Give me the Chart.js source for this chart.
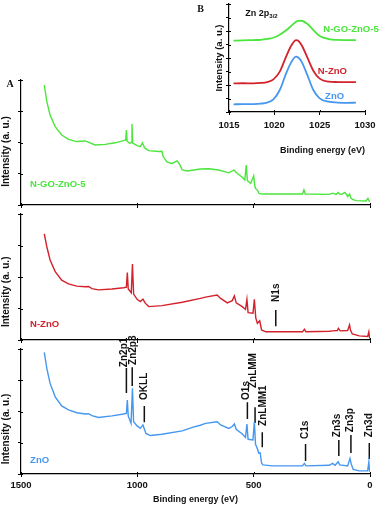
<!DOCTYPE html>
<html>
<head>
<meta charset="utf-8">
<script src="https://cdn.jsdelivr.net/npm/chart.js@4.4.1/dist/chart.umd.min.js"></script>
<style>
  html, body { margin: 0; padding: 0; background: #fff; }
  #wrap { position: relative; width: 381px; height: 507px; overflow: hidden; }
  #wrap canvas { position: absolute; left: 0; }
</style>
</head>
<body>
<div id="wrap">
  <canvas id="panel-ngo" width="381" height="138" style="top:72px"></canvas>
  <canvas id="panel-nzno" width="381" height="139" style="top:206px"></canvas>
  <canvas id="panel-zno" width="381" height="173" style="top:334px"></canvas>
  <canvas id="inset" width="191" height="160" style="top:0;left:190px"></canvas>
</div>
<script>
// survey spectra (binding energy in eV, intensity in arbitrary panel units 0..4)
const energyNGO = [1400,1389,1375,1353,1325,1296,1260,1224,1181,1138,1095,1059,1050,1047,1044,1033,1026,1023,1020,1001,987,978,970,966,951,908,894,889,872,850,829,818,807,786,729,693,650,607,585,570,549,538,532,527,513,500,495,492,484,477,463,376,290,284,278,175,161,146,137,130,121,108,100,96,88,82,75,60,17,9,4,0];
const countsNGO = [3.84,3.31,2.88,2.51,2.24,2.10,2.03,2.05,1.92,1.94,1.99,2.06,2.08,2.40,2.05,1.97,2.00,2.59,1.98,1.90,1.87,1.99,1.85,1.81,1.74,1.71,1.72,1.55,1.37,1.33,1.41,1.30,1.12,1.09,1.15,1.16,1.12,1.03,1.12,1.01,0.89,0.80,1.28,0.78,0.69,0.93,0.60,0.53,0.48,0.37,0.35,0.35,0.35,0.48,0.35,0.34,0.38,0.34,0.40,0.35,0.34,0.40,0.33,0.27,0.35,0.22,0.18,0.14,0.13,0.21,0.13,0.11];

const energyNZnO = [1400,1389,1375,1353,1325,1296,1260,1224,1210,1195,1167,1109,1059,1047,1043,1039,1026,1021,1016,1001,987,976,966,951,894,807,729,707,657,642,613,592,583,575,549,535,529,524,503,497,491,484,474,466,448,290,282,275,175,161,140,136,128,96,88,84,76,46,10,5,2,0];
const countsNZnO = [3.37,2.96,2.54,2.17,1.90,1.78,1.71,1.69,1.70,1.63,1.59,1.62,1.66,1.68,2.14,1.62,1.50,2.41,1.46,1.29,1.22,1.30,1.17,1.06,1.09,1.20,1.32,1.36,1.43,1.32,1.18,1.25,1.40,1.18,1.06,0.97,1.29,0.87,0.85,1.29,0.70,0.53,0.61,0.32,0.26,0.26,0.34,0.26,0.28,0.29,0.30,0.37,0.29,0.30,0.48,0.32,0.19,0.13,0.11,0.26,0.08,0.05];

const energyZnO = [1400,1389,1375,1353,1325,1296,1260,1224,1210,1195,1167,1109,1059,1047,1043,1039,1027,1021,1016,1001,987,976,968,963,944,894,807,760,729,707,657,642,607,592,583,575,549,535,529,524,503,497,492,486,478,472,466,460,420,290,282,275,175,161,150,137,130,96,86,80,72,46,10,5,2,0];
const countsZnO = [3.89,3.38,2.90,2.47,2.18,2.05,1.96,1.92,1.93,1.87,1.81,1.86,1.92,1.94,2.37,1.85,1.62,2.74,1.67,1.54,1.46,1.57,1.40,1.30,1.23,1.27,1.38,1.50,1.56,1.62,1.67,1.57,1.46,1.52,1.60,1.43,1.28,1.17,1.60,1.11,1.09,1.67,0.95,0.85,0.67,0.68,0.35,0.29,0.26,0.26,0.34,0.26,0.28,0.34,0.28,0.39,0.29,0.26,0.50,0.30,0.15,0.10,0.10,0.39,0.10,0.07];

// peak markers on the ZnO survey
const peakNames = ['Zn2p1','Zn2p3','OKLL','O1s','ZnLMM','ZnLMM1','C1s','Zn3s','Zn3p','Zn3d'];
const peakEnergy = [1047,1022,970,527,494,463,277,134,82,3];
const peakLow = [2.59,2.82,1.66,1.76,1.63,0.86,0.42,0.58,0.67,0.48];
const peakHigh = [3.39,3.42,2.18,2.30,2.14,1.34,0.96,1.09,1.25,0.99];
const peakLabelE = [1055,1016,970,534,500,458,280,139,85,5];
const peakLabelAt = [3.42,3.49,2.37,2.37,2.75,1.54,1.12,1.18,1.34,1.18];

// N1s marker on the N-ZnO survey
const nPeakNames = ['N1s'];
const nPeakEnergy = [405];
const nPeakLow = [0.44];
const nPeakHigh = [0.95];
const nPeakLabelE = [401];
const nPeakLabelAt = [1.21];

// Zn 2p3/2 high resolution (inset B)
const zoomEnergy = [1015.5,1016.5,1017.7,1018.5,1019.2,1019.9,1020.6,1021.3,1021.9,1022.4,1022.6,1023.0,1023.6,1024.3,1025.0,1026.0,1027.0,1028.0,1029.0];
const zoomNGO  = [5.28,5.31,5.33,5.35,5.41,5.50,5.72,6.05,6.40,6.68,6.75,6.76,6.55,6.07,5.63,5.40,5.34,5.32,5.33];
const zoomNZnO = [2.12,2.13,2.12,2.15,2.22,2.42,2.99,4.10,4.96,5.33,5.30,4.96,4.10,3.06,2.47,2.25,2.22,2.21,2.22];
const zoomZnO  = [0.57,0.58,0.59,0.62,0.69,0.94,1.63,2.86,3.73,4.10,4.05,3.73,2.81,1.63,1.01,0.76,0.70,0.68,0.69];

const SANS = "'Liberation Sans', Arial, sans-serif";
const SERIF = "'Liberation Serif', 'Times New Roman', serif";
const GREEN = '#4be53d', RED = '#d3222b', BLUE = '#4697ef';

// short tick marks on the inner side of the axes, so the ticks cross the axis line
const innerTicks = {
  id: 'innerTicks',
  afterDraw(chart) {
    const { ctx, chartArea: a, scales: { x, y } } = chart;
    ctx.save();
    ctx.strokeStyle = '#000';
    ctx.lineWidth = 1;
    ctx.beginPath();
    x.ticks.forEach((t, i) => {
      const px = Math.round(x.getPixelForTick(i)) + 0.5;
      ctx.moveTo(px, a.bottom); ctx.lineTo(px, a.bottom - 2);
    });
    y.ticks.forEach((t, i) => {
      const py = Math.round(y.getPixelForTick(i)) + 0.5;
      ctx.moveTo(a.left, py); ctx.lineTo(a.left + 2, py);
    });
    ctx.stroke();
    ctx.restore();
  }
};

// text placed in data coordinates
function notes(items) {
  return {
    id: 'notes',
    afterDatasetsDraw(chart) {
      const { ctx, scales: { x, y } } = chart;
      items.forEach(n => {
        ctx.save();
        ctx.font = n.font;
        ctx.fillStyle = n.color || '#111';
        ctx.textAlign = n.align || 'left';
        ctx.textBaseline = 'middle';
        ctx.translate(x.getPixelForValue(n.x), y.getPixelForValue(n.y));
        if (n.rotate) ctx.rotate(-Math.PI / 2);
        ctx.fillText(n.text, 0, 0);
        if (n.sub) {
          const w = ctx.measureText(n.text).width;
          ctx.font = n.subFont;
          ctx.fillText(n.sub, w, 3);
        }
        ctx.restore();
      });
    }
  };
}

function markerPoints(energy, low, high) {
  const pts = [];
  energy.forEach((e, i) => {
    pts.push({ x: e, y: low[i] }, { x: e, y: high[i] }, { x: e, y: null });
  });
  return pts;
}

function peakNotes(names, energy, at) {
  return names.map((t, i) => ({ text: t, x: energy[i], y: at[i], rotate: true, font: 'bold 10px ' + SANS, color: '#111' }));
}

const plainNumber = v => String(v);

function surveyChart(id, cfg) {
  const datasets = [{
    data: cfg.energy.map((e, i) => ({ x: e, y: cfg.counts[i] })),
    borderColor: cfg.color,
    borderWidth: 1.4,
    pointRadius: 0,
    tension: 0
  }];
  if (cfg.peaks) {
    datasets.push({
      data: markerPoints(cfg.peaks.energy, cfg.peaks.low, cfg.peaks.high),
      borderColor: '#111',
      borderWidth: 1.5,
      pointRadius: 0,
      spanGaps: false
    });
  }
  const items = [
    { text: cfg.label, x: 1461, y: cfg.labelY, font: 'bold 9.5px ' + SANS, color: cfg.color },
    { text: 'Intensity (a. u.)', x: 1562, y: cfg.titleY, rotate: true, align: 'center', font: 'bold 10px ' + SANS, color: '#111' }
  ].concat(cfg.extra || []);
  if (cfg.peaks) items.push(...peakNotes(cfg.peaks.names, cfg.peaks.labelE, cfg.peaks.at));

  return new Chart(document.getElementById(id), {
    type: 'line',
    data: { datasets },
    options: {
      responsive: false,
      animation: false,
      layout: { padding: { top: cfg.padTop, right: 11, left: 0, bottom: 0 } },
      plugins: { legend: { display: false }, tooltip: { enabled: false } },
      scales: {
        x: {
          type: 'linear', min: 0, max: 1500, reverse: true,
          border: { color: '#000', width: 1.2 },
          grid: { drawOnChartArea: false, tickLength: 3, color: '#000', tickColor: '#000' },
          ticks: { stepSize: 500, display: cfg.showX, padding: 3, color: '#111', callback: plainNumber, font: { family: SANS, size: 9.5, weight: 'bold' } },
          title: { display: cfg.showX, text: 'Binding energy (eV)', color: '#111', padding: { top: 0, bottom: 2 }, font: { family: SANS, size: 9, weight: 'bold' } },
          afterFit: s => { s.height = cfg.xHeight; }
        },
        y: {
          min: 0, max: 4,
          border: { color: '#000', width: 1.2 },
          grid: { drawOnChartArea: false, tickLength: 3, color: '#000', tickColor: '#000' },
          ticks: { stepSize: 1, display: false },
          afterFit: s => { s.width = 21; }
        }
      }
    },
    plugins: [innerTicks, notes(items)]
  });
}

surveyChart('panel-ngo', {
  energy: energyNGO, counts: countsNGO, color: GREEN, label: 'N-GO-ZnO-5',
  labelY: 0.67, titleY: 1.71, padTop: 8, xHeight: 5, showX: false,
  extra: [{ text: 'A', x: 1547, y: 3.87, align: 'center', font: 'bold 10px ' + SERIF, color: '#111' }]
});

surveyChart('panel-nzno', {
  energy: energyNZnO, counts: countsNZnO, color: RED, label: 'N-ZnO',
  labelY: 0.51, titleY: 1.53, padTop: 8, xHeight: 5, showX: false,
  peaks: { names: nPeakNames, energy: nPeakEnergy, low: nPeakLow, high: nPeakHigh, labelE: nPeakLabelE, at: nPeakLabelAt }
});

surveyChart('panel-zno', {
  energy: energyZnO, counts: countsZnO, color: BLUE, label: 'ZnO',
  labelY: 0.45, titleY: 1.44, padTop: 15, xHeight: 33, showX: true,
  peaks: { names: peakNames, energy: peakEnergy, low: peakLow, high: peakHigh, labelE: peakLabelE, at: peakLabelAt }
});

// inset B
const zoomSeries = [
  { values: zoomNGO, color: GREEN },
  { values: zoomNZnO, color: RED },
  { values: zoomZnO, color: BLUE }
];

new Chart(document.getElementById('inset'), {
  type: 'line',
  data: {
    datasets: zoomSeries.map(s => ({
      data: zoomEnergy.map((e, i) => ({ x: e, y: s.values[i] })),
      borderColor: s.color,
      borderWidth: 1.8,
      pointRadius: 0,
      cubicInterpolationMode: 'monotone'
    }))
  },
  options: {
    responsive: false,
    animation: false,
    layout: { padding: { top: 4, right: 16, left: 0, bottom: 0 } },
    plugins: { legend: { display: false }, tooltip: { enabled: false } },
    scales: {
      x: {
        type: 'linear', min: 1015, max: 1030,
        border: { color: '#000', width: 1.2 },
        grid: { drawOnChartArea: false, tickLength: 3, color: '#000', tickColor: '#000' },
        ticks: { stepSize: 5, padding: 5, color: '#111', callback: plainNumber, font: { family: SANS, size: 9.5, weight: 'bold' } },
        title: { display: true, text: 'Binding energy (eV)', align: 'end', color: '#111', padding: { top: 0, bottom: 3.6 }, font: { family: SANS, size: 9, weight: 'bold' } },
        afterFit: s => { s.height = 48; }
      },
      y: {
        min: 0, max: 8,
        border: { color: '#000', width: 1.2 },
        grid: { drawOnChartArea: false, tickLength: 3, color: '#000', tickColor: '#000' },
        ticks: { stepSize: 1, display: false },
        title: { display: true, text: 'Intensity (a. u.)', color: '#111', padding: { top: 24 }, font: { family: SANS, size: 9.5, weight: 'bold' } },
        afterFit: s => { s.width = 39; }
      }
    }
  },
  plugins: [innerTicks, notes([
    { text: 'B', x: 1011.86, y: 7.59, align: 'center', font: 'bold 10px ' + SERIF, color: '#111' },
    { text: 'Zn 2p', sub: '3/2', x: 1016.8, y: 7.33, font: 'bold 9px ' + SANS, subFont: 'bold 6px ' + SANS, color: '#111' },
    { text: 'N-GO-ZnO-5', x: 1025.4, y: 6.11, font: 'bold 9.5px ' + SANS, color: GREEN },
    { text: 'N-ZnO', x: 1024.8, y: 3.0, font: 'bold 9.5px ' + SANS, color: RED },
    { text: 'ZnO', x: 1025.6, y: 1.19, font: 'bold 9.5px ' + SANS, color: BLUE }
  ])]
});
</script>
</body>
</html>
